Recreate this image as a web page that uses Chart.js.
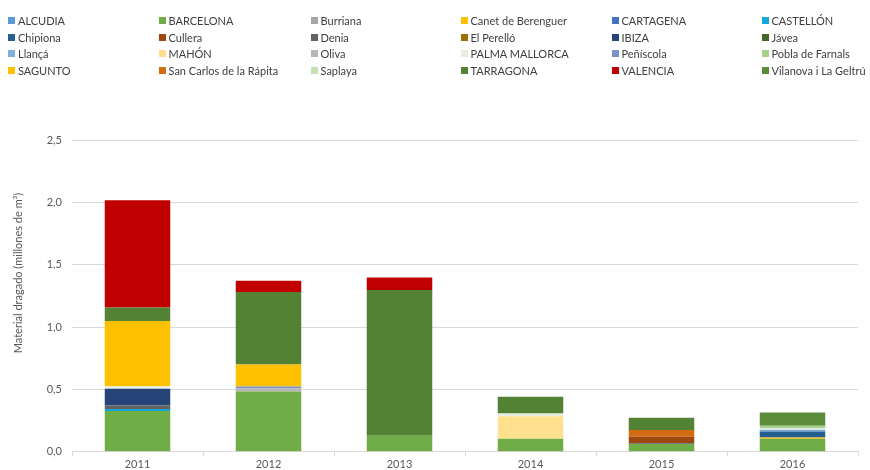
<!DOCTYPE html>
<html>
<head>
<meta charset="utf-8">
<script src="https://cdn.jsdelivr.net/npm/chart.js@4/dist/chart.umd.min.js"></script>
<style>
  html, body { margin: 0; padding: 0; background: #fff; }
  #wrap { position: relative; width: 870px; height: 470px; overflow: hidden; }
  #legend { position: absolute; left: 0; top: 12px; width: 870px; display: grid;
    grid-template-columns: 150.5px 152px 150px 151px 150px 120px; grid-auto-rows: 16.8px;
    font-family: Lato, "Liberation Sans", sans-serif; font-size: 11px; color: #404040; }
  #legend div { white-space: nowrap; display: flex; align-items: center; padding-left: 8px; }
  #legend span.box { display: inline-block; width: 7px; height: 7px; margin-right: 3px; flex-shrink: 0; }
</style>
</head>
<body>
<div id="wrap">
  <canvas id="c" width="870" height="470"></canvas>
  <div id="legend"></div>
</div>
<script>
const years = ['2011', '2012', '2013', '2014', '2015', '2016'];
const yTicks = [0, 0.5, 1.0, 1.5, 2.0, 2.5];
const yTitle = 'Material dragado (millones de m³)';

const ALCUDIA    = [0, 0, 0, 0, 0, 0];
const BARCELONA  = [0.328, 0.484, 0.129, 0.105, 0.062, 0.105];
const Burriana   = [0, 0, 0, 0, 0, 0];
const Canet      = [0, 0, 0, 0, 0, 0.010];
const CARTAGENA  = [0, 0, 0, 0, 0, 0];
const CASTELLON  = [0.016, 0, 0, 0, 0, 0];
const Chipiona   = [0, 0, 0, 0, 0.005, 0.048];
const Cullera    = [0, 0, 0, 0, 0.054, 0];
const Denia      = [0.027, 0, 0, 0, 0, 0];
const ElPerello  = [0, 0, 0, 0, 0, 0];
const IBIZA      = [0.135, 0, 0, 0, 0, 0];
const Javea      = [0, 0, 0, 0, 0, 0];
const Llanca     = [0, 0, 0, 0, 0, 0.014];
const MAHON      = [0, 0, 0, 0.181, 0, 0];
const Oliva      = [0, 0.024, 0, 0, 0, 0];
const PALMA      = [0.019, 0, 0, 0.021, 0, 0.014];
const Peniscola  = [0, 0.016, 0, 0, 0, 0];
const Pobla      = [0, 0, 0, 0, 0, 0.017];
const SAGUNTO    = [0.524, 0.175, 0, 0, 0, 0];
const SanCarlos  = [0, 0, 0, 0, 0.054, 0];
const Saplaya    = [0, 0, 0, 0, 0, 0];
const TARRAGONA  = [0.107, 0.583, 1.169, 0.135, 0.099, 0];
const VALENCIA   = [0.860, 0.089, 0.099, 0, 0, 0];
const Vilanova   = [0, 0, 0, 0, 0, 0.107];

const seriesNames = ['ALCUDIA', 'BARCELONA', 'Burriana', 'Canet de Berenguer', 'CARTAGENA', 'CASTELLÓN',
  'Chipiona', 'Cullera', 'Denia', 'El Perelló', 'IBIZA', 'Jávea',
  'Llançá', 'MAHÓN', 'Oliva', 'PALMA MALLORCA', 'Peñíscola', 'Pobla de Farnals',
  'SAGUNTO', 'San Carlos de la Rápita', 'Saplaya', 'TARRAGONA', 'VALENCIA', 'Vilanova i La Geltrú'];
const seriesValues = [ALCUDIA, BARCELONA, Burriana, Canet, CARTAGENA, CASTELLON,
  Chipiona, Cullera, Denia, ElPerello, IBIZA, Javea,
  Llanca, MAHON, Oliva, PALMA, Peniscola, Pobla,
  SAGUNTO, SanCarlos, Saplaya, TARRAGONA, VALENCIA, Vilanova];
const seriesColors = ['#5B9BD5', '#70AD47', '#A5A5A5', '#FFC000', '#4472C4', '#14A8D8',
  '#255E91', '#9E480E', '#636363', '#997300', '#264478', '#43682B',
  '#7CAFDD', '#FFE08F', '#B7B7B7', '#E6EEDF', '#7A92C8', '#A9D18E',
  '#FFC000', '#D36B12', '#C5E0B4', '#548235', '#C00000', '#5B8C3A'];

const FONT = 'Lato, "Liberation Sans", sans-serif';

const yTitlePlugin = {
  id: 'yTitle',
  afterDraw(chart) {
    const ctx = chart.ctx;
    ctx.save();
    ctx.translate(18, 273);
    ctx.rotate(-Math.PI / 2);
    ctx.font = '11px ' + FONT;
    ctx.fillStyle = '#595959';
    ctx.textAlign = 'center';
    ctx.textBaseline = 'middle';
    ctx.fillText(yTitle, 0, 0);
    ctx.restore();
  }
};

const chart = new Chart(document.getElementById('c'), {
  type: 'bar',
  data: {
    labels: years,
    datasets: seriesNames.map((n, i) => ({
      label: n,
      data: seriesValues[i],
      backgroundColor: seriesColors[i],
      borderWidth: 0,
      barPercentage: 0.5,
      categoryPercentage: 1.0
    }))
  },
  options: {
    responsive: false,
    animation: false,
    layout: { padding: { left: 0, right: 12, top: 140, bottom: -3 } },
    plugins: { legend: { display: false }, tooltip: { enabled: false } },
    scales: {
      x: {
        stacked: true,
        grid: { display: true, drawOnChartArea: false, drawTicks: true, tickLength: 4, color: '#d9d9d9' },
        border: { display: true, color: '#d9d9d9' },
        ticks: { color: '#595959', font: { family: FONT, size: 11 }, padding: 2 }
      },
      y: {
        stacked: true,
        min: 0, max: 2.5,
        afterBuildTicks: (s) => { s.ticks = yTicks.map(v => ({ value: v })); },
        afterFit: (s) => { s.width = 72; },
        grid: { color: '#d9d9d9', drawTicks: false },
        border: { display: false },
        ticks: {
          color: '#595959', font: { family: FONT, size: 11 }, padding: 10,
          callback: (v) => Number(v).toFixed(1).replace('.', ',')
        }
      }
    }
  },
  plugins: [yTitlePlugin]
});

const leg = document.getElementById('legend');
chart.data.datasets.forEach(ds => {
  const d = document.createElement('div');
  const b = document.createElement('span');
  b.className = 'box';
  b.style.background = ds.backgroundColor;
  d.appendChild(b);
  d.appendChild(document.createTextNode(ds.label));
  leg.appendChild(d);
});
</script>
</body>
</html>
